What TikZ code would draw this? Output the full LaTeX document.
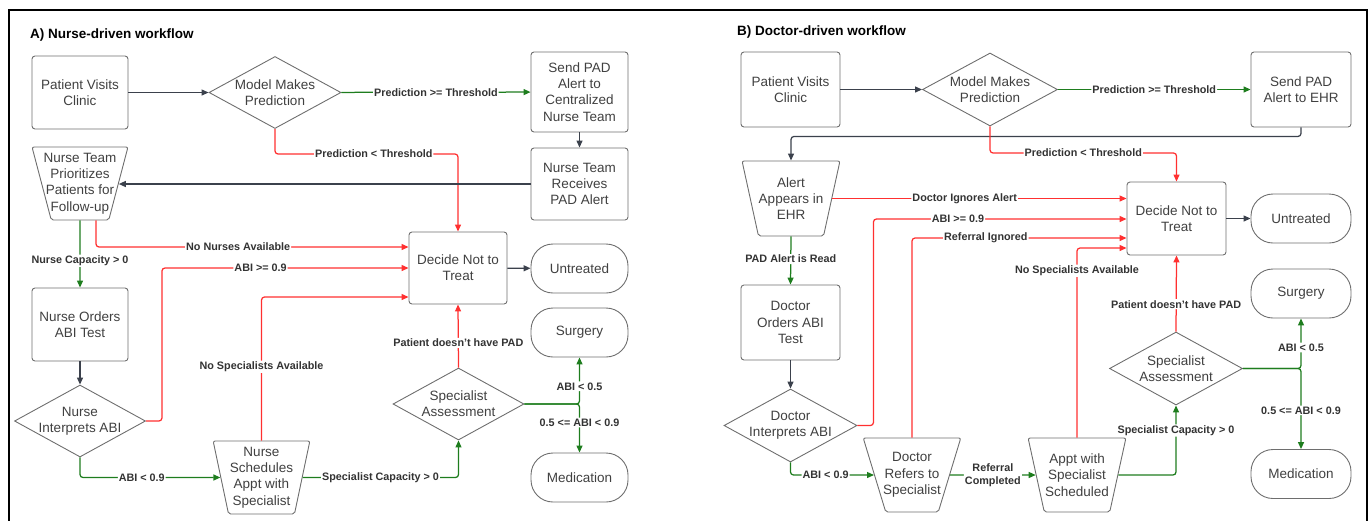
\documentclass[tikz,border=0pt]{standalone}
\usepackage{fontspec}
\setmainfont{Liberation Sans}
\usetikzlibrary{shapes.geometric,arrows.meta}
\definecolor{nodegray}{HTML}{6E6E6E}
\definecolor{txtgray}{HTML}{404040}
\definecolor{dkline}{HTML}{3B414C}
\definecolor{redline}{HTML}{FF3030}
\definecolor{grline}{HTML}{1E7D1E}
\definecolor{lblcol}{HTML}{333333}
\tikzset{
  nodetext/.style={text=txtgray, font=\fontsize{13.5}{16.3}\selectfont, align=center},
  box/.style={nodetext, draw=nodegray, line width=0.9pt, rounded corners=3pt, inner sep=0pt, minimum width=96pt, minimum height=73pt},
  term/.style={box, rounded corners=22pt, minimum height=49pt},
  dia/.style={nodetext, shape=diamond, draw=nodegray, line width=0.9pt, aspect=1.8, inner sep=-4pt, minimum width=132pt, minimum height=72pt},
  trap/.style={nodetext, shape=trapezium, shape border rotate=180, trapezium stretches=true, draw=nodegray, line width=0.9pt, rounded corners=2pt, inner xsep=-16pt, inner ysep=-1pt, minimum width=96pt, minimum height=73pt},
  lbl/.style={fill=white, text=lblcol, font=\bfseries\fontsize{10.8}{11.5}\selectfont, inner sep=1pt, align=center},
  conn/.style={line width=1.25pt, -{Triangle[length=7pt,width=6pt]}, rounded corners=3pt},
  dk/.style={draw=dkline},
  rd/.style={draw=redline},
  gr/.style={draw=grline},
  ttl/.style={text=black, font=\bfseries\fontsize{13.5}{15}\selectfont, anchor=west, inner sep=0pt}
}
\begin{document}
\begin{tikzpicture}[x=1pt,y=-1pt]
\useasboundingbox (0,0) rectangle (1372,520);
\draw[line width=2pt] (9,530) -- (9,10) -- (1367,10) -- (1367,530);

% ---------- Panel A ----------
\node[ttl] (ta) at (30,35) {A) Nurse-driven workflow};
\node[box] (pa) at (80,92.5) {Patient Visits\\Clinic};
\node[dia] (ma) at (275,92.5) {Model Makes\\Prediction};
\node[box, minimum width=97pt, minimum height=80pt] (sa) at (579.5,92) {Send PAD\\Alert to\\Centralized\\Nurse Team};
\node[box, minimum width=97pt, minimum height=72pt] (ra) at (579.5,184) {Nurse Team\\Receives\\PAD Alert};
\node[trap, trapezium left angle=77, trapezium right angle=77] (pra) at (80,183.5) {Nurse Team\\Prioritizes\\Patients for\\Follow-up};
\node[box] (oa) at (80,324.5) {Nurse Orders\\ABI Test};
\node[dia, minimum width=131pt] (ia) at (80,421) {Nurse\\Interprets ABI};
\node[trap, trapezium left angle=83, trapezium right angle=83, minimum width=97pt] (nsa) at (261.5,477.5) {Nurse\\Schedules\\Appt with\\Specialist};
\node[box, minimum width=98pt, minimum height=72pt] (da) at (458,268) {Decide Not to\\Treat};
\node[term, minimum width=97pt] (ua) at (579.5,268.5) {Untreated};
\node[term, minimum width=97pt] (sua) at (579.5,332.5) {Surgery};
\node[term, minimum width=97pt] (mea) at (579.5,477.5) {Medication};
\node[dia, minimum width=131pt] (spa) at (458.5,404) {Specialist\\Assessment};

\draw[conn, dk] (pa) -- (ma);
\draw[conn, gr] (ma) -- node[lbl]{Prediction >= Threshold} (sa);
\draw[conn, dk] (sa) -- (ra);
\draw[conn, rd] (ma.south) -- (ma.south |- 0,154) -| node[lbl, pos=0.27]{Prediction < Threshold} (da.north);
\draw[conn, dk] (ra.west) -- (ra.west -| pra.east);
\draw[conn, gr] (pra.south) -- node[lbl, pos=0.6]{Nurse Capacity > 0} (oa.north);
\draw[conn, rd] ([xshift=16pt]pra.south) -- ([xshift=16pt]pra.south |- 0,247) -- node[lbl, pos=0.455]{No Nurses Available} (da.west |- 0,247);
\draw[conn, dk] (oa) -- (ia);
\draw[conn, rd] (ia.east) -- ++(16,0) |- node[lbl, pos=0.70]{ABI >= 0.9} (da.west);
\draw[conn, rd] (nsa.north) |- node[lbl, pos=0.257]{No Specialists Available} (da.west |- 0,297);
\draw[conn, gr] (ia.south) |- node[lbl, pos=0.72]{ABI < 0.9} (nsa.west);
\draw[conn, gr] (nsa.east) -| node[lbl, pos=0.25]{Specialist Capacity > 0} (spa.south);
\draw[conn, rd] (spa.north) -- node[lbl, pos=0.39]{Patient doesn't have PAD} (da.south);
\draw[conn, gr] (spa.east) -| node[lbl, pos=0.69]{ABI < 0.5} (sua.south);
\draw[conn, gr] (spa.east) -| node[lbl, pos=0.69]{0.5 <= ABI < 0.9} (mea.north);
\draw[conn, dk] (da) -- (ua);

% ---------- Panel B ----------
\node[ttl] (tb) at (737,32) {B) Doctor-driven workflow};
\node[box, minimum width=99pt, minimum height=75pt] (pb) at (790.5,89.5) {Patient Visits\\Clinic};
\node[dia, minimum width=135pt, minimum height=73pt] (mb) at (990,89.5) {Model Makes\\Prediction};
\node[box, minimum width=100pt, minimum height=75pt] (sb) at (1301,89.5) {Send PAD\\Alert to EHR};
\node[trap, trapezium left angle=78.5, trapezium right angle=78.5, minimum width=98pt, minimum height=75pt] (ab) at (791,198.5) {Alert\\Appears in\\EHR};
\node[box, minimum width=99pt, minimum height=75pt] (ob) at (790.5,322.5) {Doctor\\Orders ABI\\Test};
\node[dia, minimum width=133pt, minimum height=73pt] (ib) at (790.5,425.5) {Doctor\\Interprets ABI};
\node[trap, trapezium left angle=75.5, trapezium right angle=75.5, minimum width=98pt, minimum height=74pt] (rb) at (912,475) {Doctor\\Refers to\\Specialist};
\node[trap, trapezium left angle=79, trapezium right angle=79, minimum width=98pt, minimum height=74pt] (apb) at (1077,475) {Appt with\\Specialist\\Scheduled};
\node[box, minimum width=99pt, minimum height=73pt] (db) at (1176.5,218.5) {Decide Not to\\Treat};
\node[term, minimum width=100pt] (ub) at (1301,218.5) {Untreated};
\node[term, minimum width=100pt] (sub) at (1301,293.5) {Surgery};
\node[term, minimum width=100pt] (meb) at (1301,474) {Medication};
\node[dia, minimum width=133pt, minimum height=73pt] (spb) at (1176,368.5) {Specialist\\Assessment};

\draw[conn, dk] (pb) -- (mb);
\draw[conn, gr] (mb) -- node[lbl]{Prediction >= Threshold} (sb);
\draw[conn, dk] (sb.south) -- ++(0,9) -| (ab.north);
\draw[conn, rd] (mb.south) -- (mb.south |- 0,153) -| node[lbl, pos=0.25]{Prediction < Threshold} (db.north);
\draw[conn, rd] (ab.east) -- node[lbl, pos=0.45]{Doctor Ignores Alert} (ab.east -| db.west);
\draw[conn, rd] (ib.east) -- ++(16,0) |- node[lbl, pos=0.667]{ABI >= 0.9} (db.west |- 0,219);
\draw[conn, rd] (rb.north) |- node[lbl, pos=0.672]{Referral Ignored} (db.west |- 0,238);
\draw[conn, rd] (apb.north) |- node[lbl, pos=0.44]{No Specialists Available} (db.west |- 0,248);
\draw[conn, gr] (ab.south) -- node[lbl, pos=0.47]{PAD Alert is Read} (ob.north);
\draw[conn, dk] (ob) -- (ib);
\draw[conn, gr] (ib.south) |- node[lbl, pos=0.71]{ABI < 0.9} (rb.west);
\draw[conn, gr] (rb.east) -- node[lbl, font=\bfseries\fontsize{10.8}{12.5}\selectfont]{Referral\\Completed} (apb.west);
\draw[conn, gr] (apb.east) -| node[lbl, pos=0.82]{Specialist Capacity > 0} (spb.south);
\draw[conn, rd] (spb.north) -- node[lbl, pos=0.36]{Patient doesn't have PAD} (db.south);
\draw[conn, gr] (spb.east) -| node[lbl, pos=0.71]{ABI < 0.5} (sub.south);
\draw[conn, gr] (spb.east) -| node[lbl, pos=0.76]{0.5 <= ABI < 0.9} (meb.north);
\draw[conn, dk] (db) -- (ub);
\end{tikzpicture}
\end{document}
